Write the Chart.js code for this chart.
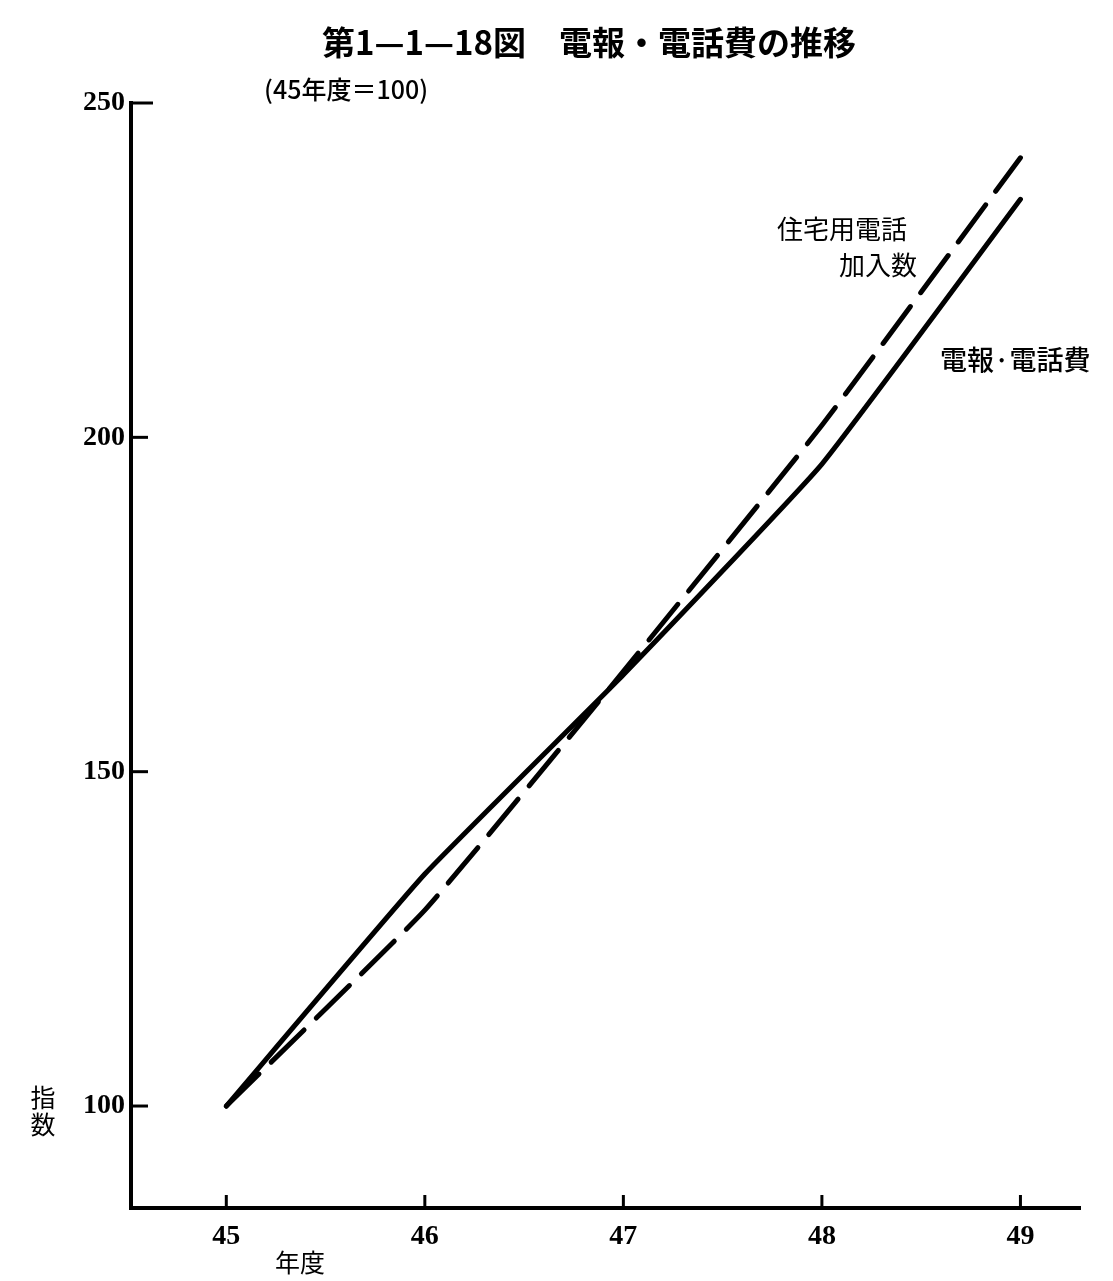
<!DOCTYPE html>
<html>
<head>
<meta charset="utf-8">
<script src="https://cdn.jsdelivr.net/npm/chart.js@4.4.1/dist/chart.umd.min.js"></script>
<style>
  html, body { margin: 0; padding: 0; background: #fff; }
  #wrap { width: 1113px; height: 1281px; }
</style>
</head>
<body>
<div id="wrap"><canvas id="c" width="1113" height="1281"></canvas></div>
<script>
// 年度 (昭和) と指数 (45年度=100)
var years = [45, 46, 47, 48, 49];
var yTickValues = [100, 150, 200, 250];
var telegraphPhoneCost = [100, 134.7, 164.5, 196.0, 235.6];   // 電報・電話費
var residentialSubscribers = [100, 129.3, 165.0, 201.8, 241.8]; // 住宅用電話加入数

var serif = "'Liberation Serif', 'DejaVu Serif', serif";
var cjk = "'Noto Sans CJK JP', sans-serif";

function toPoints(values) {
    return years.map(function (yr, i) { return { x: yr, y: values[i] }; });
}

// 内向きの目盛りと見出し類
var decorations = {
    id: 'decorations',
    afterDraw: function (chart) {
        var ctx = chart.ctx, x = chart.scales.x, y = chart.scales.y;
        ctx.save();
        ctx.strokeStyle = '#000';
        ctx.lineWidth = 3;
        yTickValues.forEach(function (v) {
            var py = y.getPixelForValue(v);
            ctx.beginPath();
            ctx.moveTo(y.right, py);
            ctx.lineTo(y.right + (v === 250 ? 22 : 17), py);
            ctx.stroke();
        });
        years.forEach(function (v) {
            var px = x.getPixelForValue(v);
            ctx.beginPath();
            ctx.moveTo(px, x.top);
            ctx.lineTo(px, x.top - 13);
            ctx.stroke();
        });

        ctx.fillStyle = '#000';
        ctx.textBaseline = 'middle';
        ctx.textAlign = 'center';
        ctx.font = 'bold 33px ' + cjk;
        ctx.fillText('第1—1—18図　電報・電話費の推移', 589, 42);

        ctx.textAlign = 'left';
        ctx.font = '500 25px ' + cjk;
        ctx.fillText('(45年度＝100)', 264, 89);

        ctx.font = '26px ' + cjk;
        ctx.fillText('住宅用電話', 777, 229);
        ctx.fillText('加入数', 839, 265);
        ctx.font = '500 27px ' + cjk;
        ctx.fillText('電報·電話費', 940, 360);

        ctx.font = '25px ' + cjk;
        ctx.textAlign = 'center';
        ctx.fillText('指', 43, 1097);
        ctx.fillText('数', 43, 1124);
        ctx.fillText('年度', 300, 1262);
        ctx.restore();
    }
};

new Chart(document.getElementById('c'), {
    type: 'line',
    data: {
        datasets: [{
            label: '電報・電話費',
            data: toPoints(telegraphPhoneCost),
            borderColor: '#000',
            borderWidth: 5,
            tension: 0.12,
            pointRadius: 0,
            borderCapStyle: 'round'
        }, {
            label: '住宅用電話加入数',
            data: toPoints(residentialSubscribers),
            borderColor: '#000',
            borderWidth: 5,
            borderDash: [46, 17],
            tension: 0.12,
            pointRadius: 0,
            borderCapStyle: 'round'
        }]
    },
    options: {
        responsive: false,
        animation: false,
        layout: { padding: { top: 103, right: 33, left: 0, bottom: 0 } },
        plugins: { legend: { display: false }, tooltip: { enabled: false } },
        scales: {
            x: {
                type: 'linear',
                min: 44.52,
                max: 49.3,
                grid: { display: false, drawTicks: false },
                border: { display: true, width: 4, color: '#000' },
                afterBuildTicks: function (s) { s.ticks = years.map(function (v) { return { value: v }; }); },
                afterFit: function (s) { s.height = 73; },
                ticks: { color: '#000', padding: 12, maxRotation: 0, font: { family: serif, size: 28, weight: 'bold' } }
            },
            y: {
                type: 'linear',
                min: 84.75,
                max: 250,
                grid: { display: false, drawTicks: false },
                border: { display: true, width: 4, color: '#000' },
                afterBuildTicks: function (s) { s.ticks = yTickValues.map(function (v) { return { value: v }; }); },
                afterFit: function (s) { s.width = 131; },
                ticks: { color: '#000', padding: 6, font: { family: serif, size: 28, weight: 'bold' } }
            }
        }
    },
    plugins: [decorations]
});
</script>
</body>
</html>
